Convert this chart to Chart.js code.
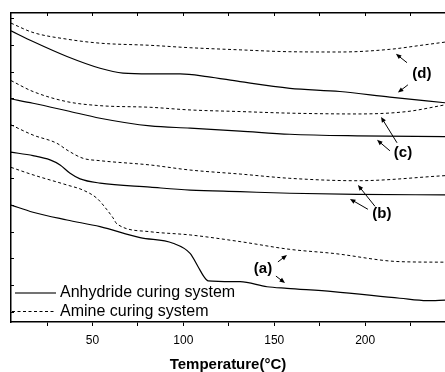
<!DOCTYPE html>
<html>
<head>
<meta charset="utf-8">
<script src="https://cdn.jsdelivr.net/npm/chart.js@4.4.1/dist/chart.umd.min.js"></script>
<style>
html, body { margin: 0; padding: 0; background: #fff; }
#wrap { width: 445px; height: 372px; position: relative; }
</style>
</head>
<body>
<div id="wrap"><canvas id="dsc"></canvas></div>
<script>
// temperatures (°C) and heat flow readings (arbitrary units, curves offset)
const dAmineX = [5.2, 17.3, 36.0, 54.2, 81.7, 103.7, 131.2, 158.6, 186.1, 213.6, 231.8, 243.9];
const dAmineY = [10.83, 10.48, 10.23, 10.08, 10.0, 9.91, 9.83, 9.76, 9.75, 9.85, 10.01, 10.12];
const dAnhX = [5.2, 17.3, 36.0, 54.2, 66.8, 81.7, 98.2, 113.0, 131.2, 158.6, 186.1, 213.6, 243.9];
const dAnhY = [10.54, 10.14, 9.58, 9.14, 8.96, 8.93, 8.93, 8.83, 8.64, 8.39, 8.27, 8.06, 7.85];

const cAmineX = [5.2, 17.3, 36.0, 54.2, 81.7, 103.7, 131.2, 158.6, 195.5, 223.0, 243.9];
const cAmineY = [8.68, 8.27, 7.89, 7.74, 7.68, 7.58, 7.52, 7.46, 7.43, 7.52, 7.77];
const cAnhX = [5.2, 17.3, 36.0, 54.2, 81.7, 103.7, 131.2, 158.6, 195.5, 243.9];
const cAnhY = [7.99, 7.83, 7.55, 7.27, 6.98, 6.90, 6.79, 6.67, 6.61, 6.58];

const bAmineX = [5.2, 17.3, 30.5, 36.0, 44.8, 54.2, 81.7, 103.7, 131.2, 158.6, 195.5, 243.9];
const bAmineY = [7.02, 6.64, 6.33, 6.08, 5.77, 5.68, 5.52, 5.33, 5.18, 5.02, 4.93, 5.12];
const bAnhX = [5.2, 17.3, 26.7, 32.2, 37.7, 43.2, 54.2, 81.7, 103.7, 131.2, 158.6, 195.5, 243.9];
const bAnhY = [6.00, 5.87, 5.71, 5.52, 5.21, 5.00, 4.84, 4.69, 4.58, 4.52, 4.46, 4.42, 4.40];

const aAmineX = [5.2, 17.3, 36.0, 44.8, 52.5, 58.0, 61.3, 63.5, 81.7, 103.7, 131.2, 158.6, 182.3, 219.1, 243.9];
const aAmineY = [5.43, 5.15, 4.77, 4.58, 4.27, 3.84, 3.54, 3.31, 3.02, 2.90, 2.65, 2.36, 2.21, 1.90, 1.88];
const aAnhX = [5.2, 17.3, 36.0, 54.2, 76.2, 94.3, 103.7, 108.1, 111.4, 113.6, 131.2, 146.0, 157.0, 182.3, 219.1, 234.0, 243.9];
const aAnhY = [4.02, 3.75, 3.46, 3.21, 2.80, 2.59, 2.21, 1.71, 1.33, 1.18, 1.15, 0.96, 0.90, 0.78, 0.53, 0.44, 0.46];

const xTicks = [25, 50, 75, 100, 125, 150, 175, 200, 225];
const xLabels = [50, 100, 150, 200];
const yTicks = [0, 1, 2, 3, 4, 5, 6, 7, 8, 9, 10, 11];
const seriesNames = ["Anhydride curing system", "Amine curing system"];

// curve labels (a)-(d) with their two arrows: [x, y] of text, then arrow [from, to]
const curveLabels = [
  { text: "(d)", at: [231.2, 8.93], arrows: [[[223.0, 9.35], [216.9, 9.68]], [[223.5, 8.52], [218.0, 8.23]]] },
  { text: "(c)", at: [220.8, 5.97], arrows: [[[217.5, 6.35], [208.7, 7.32]], [[213.6, 6.05], [206.5, 6.46]]] },
  { text: "(b)", at: [209.2, 3.68], arrows: [[[205.4, 3.97], [196.0, 4.77]], [[201.5, 3.86], [191.6, 4.25]]] },
  { text: "(a)", at: [143.8, 1.62], arrows: [[[152.0, 1.89], [157.0, 2.15]], [[150.9, 1.36], [155.9, 1.10]]] }
];

const FONT = "'Liberation Sans', Arial, sans-serif";
const dash = [3, 2.5];

function pts(xs, ys) {
  return xs.map((x, i) => ({ x: x, y: ys[i] }));
}

function curve(xs, ys, dashed) {
  return {
    data: pts(xs, ys),
    borderColor: "#000",
    borderWidth: dashed ? 1 : 1.2,
    borderDash: dashed ? dash : [],
    pointRadius: 0,
    tension: 0.4,
    cubicInterpolationMode: "monotone",
    fill: false
  };
}

const labelPlugin = {
  id: "curveLabels",
  afterDatasetsDraw(chart) {
    const ctx = chart.ctx;
    const xs = chart.scales.x, ys = chart.scales.y;
    const area = chart.chartArea;
    ctx.save();
    ctx.fillStyle = "#000";
    ctx.strokeStyle = "#000";
    ctx.font = "bold 15px " + FONT;
    ctx.textAlign = "center";
    ctx.textBaseline = "middle";
    curveLabels.forEach(l => {
      ctx.fillText(l.text, xs.getPixelForValue(l.at[0]), ys.getPixelForValue(l.at[1]));
      l.arrows.forEach(a => {
        const x1 = xs.getPixelForValue(a[0][0]), y1 = ys.getPixelForValue(a[0][1]);
        const x2 = xs.getPixelForValue(a[1][0]), y2 = ys.getPixelForValue(a[1][1]);
        const ang = Math.atan2(y2 - y1, x2 - x1);
        ctx.lineWidth = 1;
        ctx.beginPath();
        ctx.moveTo(x1, y1);
        ctx.lineTo(x2 - 3 * Math.cos(ang), y2 - 3 * Math.sin(ang));
        ctx.stroke();
        ctx.beginPath();
        ctx.moveTo(x2, y2);
        ctx.lineTo(x2 - 5.5 * Math.cos(ang) + 2.3 * Math.sin(ang), y2 - 5.5 * Math.sin(ang) - 2.3 * Math.cos(ang));
        ctx.lineTo(x2 - 5.5 * Math.cos(ang) - 2.3 * Math.sin(ang), y2 - 5.5 * Math.sin(ang) + 2.3 * Math.cos(ang));
        ctx.closePath();
        ctx.fill();
      });
    });

    // legend, bottom left inside the plot
    ctx.font = "16px " + FONT;
    ctx.textAlign = "left";
    ctx.lineWidth = 1.3;
    ctx.strokeStyle = "#444";
    ctx.beginPath();
    ctx.moveTo(area.left + 4, area.bottom - 29);
    ctx.lineTo(area.left + 45, area.bottom - 29);
    ctx.stroke();
    ctx.fillText(seriesNames[0], area.left + 49, area.bottom - 29);
    ctx.strokeStyle = "#000";
    ctx.lineWidth = 1;
    ctx.setLineDash(dash);
    ctx.beginPath();
    ctx.moveTo(area.left + 1, area.bottom - 10.5);
    ctx.lineTo(area.left + 45, area.bottom - 10.5);
    ctx.stroke();
    ctx.setLineDash([]);
    ctx.fillText(seriesNames[1], area.left + 49, area.bottom - 10.5);
    ctx.restore();
  }
};

new Chart(document.getElementById("dsc"), {
  type: "line",
  data: {
    datasets: [
      curve(dAmineX, dAmineY, true),
      curve(dAnhX, dAnhY, false),
      curve(cAmineX, cAmineY, true),
      curve(cAnhX, cAnhY, false),
      curve(bAmineX, bAmineY, true),
      curve(bAnhX, bAnhY, false),
      curve(aAmineX, aAmineY, true),
      curve(aAnhX, aAnhY, false)
    ]
  },
  options: {
    responsive: true,
    maintainAspectRatio: false,
    animation: false,
    devicePixelRatio: 1,
    layout: { padding: { left: 0, top: 13, right: 0, bottom: 0 } },
    plugins: {
      legend: { display: false },
      tooltip: { enabled: false }
    },
    scales: {
      x: {
        type: "linear",
        position: "bottom",
        min: 5.2,
        max: 243.9,
        afterBuildTicks: s => { s.ticks = xTicks.map(v => ({ value: v })); },
        afterFit: s => { s.height = 50; },
        ticks: {
          color: "#000",
          font: { family: FONT, size: 12 },
          padding: 7,
          maxRotation: 0,
          autoSkip: false,
          callback: v => xLabels.includes(v) ? String(v) : ""
        },
        grid: { drawOnChartArea: false, drawTicks: true, tickLength: 4, color: "#000", lineWidth: 1 },
        border: { color: "#000", width: 1.5 },
        title: {
          display: true,
          text: "Temperature(°C)",
          color: "#000",
          font: { family: FONT, size: 15, weight: "bold", lineHeight: 1 },
          padding: { top: 0, bottom: 0 }
        }
      },
      xt: {
        type: "linear",
        position: "top",
        min: 5.2,
        max: 243.9,
        afterBuildTicks: s => { s.ticks = xTicks.map(v => ({ value: v })); },
        afterFit: s => { s.height = 0; },
        ticks: { display: false },
        grid: { drawOnChartArea: false, drawTicks: true, tickLength: -3, color: "#000", lineWidth: 1 },
        border: { color: "#000", width: 1.5 }
      },
      y: {
        type: "linear",
        min: -0.36,
        max: 11.21,
        afterBuildTicks: s => { s.ticks = yTicks.map(v => ({ value: v })); },
        afterFit: s => { s.width = 11; },
        ticks: { display: false },
        grid: { drawOnChartArea: false, drawTicks: true, tickLength: -3, color: "#000", lineWidth: 1 },
        border: { color: "#000", width: 1.5 }
      }
    }
  },
  plugins: [labelPlugin]
});
</script>
</body>
</html>
